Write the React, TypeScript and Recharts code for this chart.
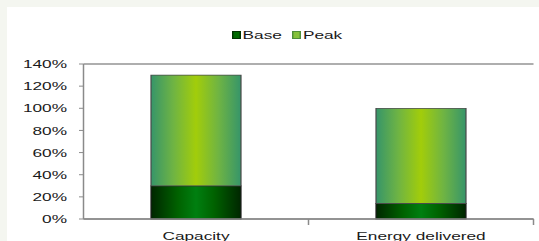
import { BarChart, Bar, XAxis, YAxis, CartesianGrid, Legend } from 'recharts';

const categories = ['Capacity', 'Energy delivered'];
const baseValues = [30, 14];
const peakValues = [100, 86];
const yTicks = [0, 20, 40, 60, 80, 100, 120, 140];
const seriesNames = ['Base', 'Peak'];

const data = categories.map((name, i) => ({
  name,
  base: baseValues[i],
  peak: peakValues[i],
}));

const FONT = '"Liberation Sans", Arial, sans-serif';
const STRETCH = 1.5; // reference image is horizontally stretched
const CHART_W = 355;
const CHART_H = 234;
const X_TICK_MARGIN = 13;

const legendSwatch: Record<string, { fill: string; stroke: string }> = {
  Base: { fill: '#006a00', stroke: '#003300' },
  Peak: { fill: '#86c23a', stroke: '#4f8f3a' },
};

const XTick = (props: any) => {
  const { x, y, payload } = props;
  const half = payload?.offset ?? 0;
  const axisY = y - X_TICK_MARGIN;
  return (
    <g>
      <line x1={x + half} x2={x + half} y1={axisY} y2={axisY + 6} stroke="#8a8a8a" strokeWidth={1} />
      <text x={x} y={y} dy="0.71em" textAnchor="middle" fill="#1a1a1a" fontSize={11.5} fontFamily={FONT}>
        {payload.value}
      </text>
    </g>
  );
};

const LegendContent = () => (
  <div
    style={{
      display: 'flex',
      justifyContent: 'center',
      alignItems: 'center',
      paddingLeft: 18,
      height: 14,
      fontFamily: FONT,
      fontSize: 11.5,
      color: '#1a1a1a',
    }}
  >
    {seriesNames.map((n, i) => (
      <span key={n} style={{ display: 'flex', alignItems: 'center', marginLeft: i === 0 ? 0 : 6.5 }}>
        <span
          style={{
            display: 'inline-block',
            width: 4.5,
            height: 6,
            background: legendSwatch[n].fill,
            border: `0.6px solid ${legendSwatch[n].stroke}`,
            marginRight: 1,
          }}
        />
        {n}
      </span>
    ))}
  </div>
);

export default function App() {
  return (
    <div style={{ position: 'absolute', left: 0, top: 0, width: 539, height: 241, background: '#f4f6f0', overflow: 'hidden' }}>
      <div style={{ position: 'absolute', left: 7, top: 7, width: 532, height: 234, background: '#ffffff', overflow: 'hidden' }}>
        <div style={{ transform: `scaleX(${STRETCH})`, transformOrigin: '0 0', width: CHART_W, height: CHART_H }}>
          <BarChart
            width={CHART_W}
            height={CHART_H}
            data={data}
            margin={{ top: 57, right: 4, bottom: 0, left: 1 }}
            barSize={60}
          >
            <defs>
              <linearGradient id="peakGrad" x1="0" y1="0" x2="1" y2="0">
                <stop offset="0%" stopColor="#36956a" />
                <stop offset="25%" stopColor="#6fb443" />
                <stop offset="50%" stopColor="#a2cd0a" />
                <stop offset="75%" stopColor="#6fb443" />
                <stop offset="100%" stopColor="#36956a" />
              </linearGradient>
              <linearGradient id="baseGrad" x1="0" y1="0" x2="1" y2="0">
                <stop offset="0%" stopColor="#002600" />
                <stop offset="30%" stopColor="#006200" />
                <stop offset="50%" stopColor="#007f10" />
                <stop offset="70%" stopColor="#006200" />
                <stop offset="100%" stopColor="#002600" />
              </linearGradient>
            </defs>
            <CartesianGrid vertical={false} stroke="#939393" strokeWidth={1.3} />
            <XAxis
              dataKey="name"
              height={22}
              tickLine={false}
              tickSize={0}
              tickMargin={X_TICK_MARGIN}
              axisLine={{ stroke: '#8a8a8a', strokeWidth: 1.3 }}
              tick={<XTick />}
              interval={0}
            />
            <YAxis
              yAxisId="left"
              width={50}
              domain={[0, 140]}
              ticks={yTicks}
              interval={0}
              tickFormatter={(v: number) => `${v}%`}
              tickSize={3}
              tickMargin={8}
              tickLine={{ stroke: '#8a8a8a' }}
              axisLine={{ stroke: '#8a8a8a', strokeWidth: 1 }}
              tick={{ fill: '#1a1a1a', fontSize: 11.5, fontFamily: FONT }}
            />
            <YAxis
              yAxisId="right"
              orientation="right"
              width={0}
              domain={[0, 140]}
              tick={false}
              tickLine={false}
              axisLine={{ stroke: '#9a9a9a', strokeWidth: 1 }}
            />
            <Legend
              verticalAlign="middle"
              align="center"
              wrapperStyle={{ top: 21, left: 0, width: CHART_W, height: 14 }}
              content={<LegendContent />}
            />
            <Bar yAxisId="left" dataKey="base" name="Base" stackId="s" fill="url(#baseGrad)" stroke="#1d1d1d" strokeWidth={0.8} isAnimationActive={false} />
            <Bar yAxisId="left" dataKey="peak" name="Peak" stackId="s" fill="url(#peakGrad)" stroke="#4a4a4a" strokeWidth={0.8} isAnimationActive={false} />
          </BarChart>
        </div>
      </div>
    </div>
  );
}
